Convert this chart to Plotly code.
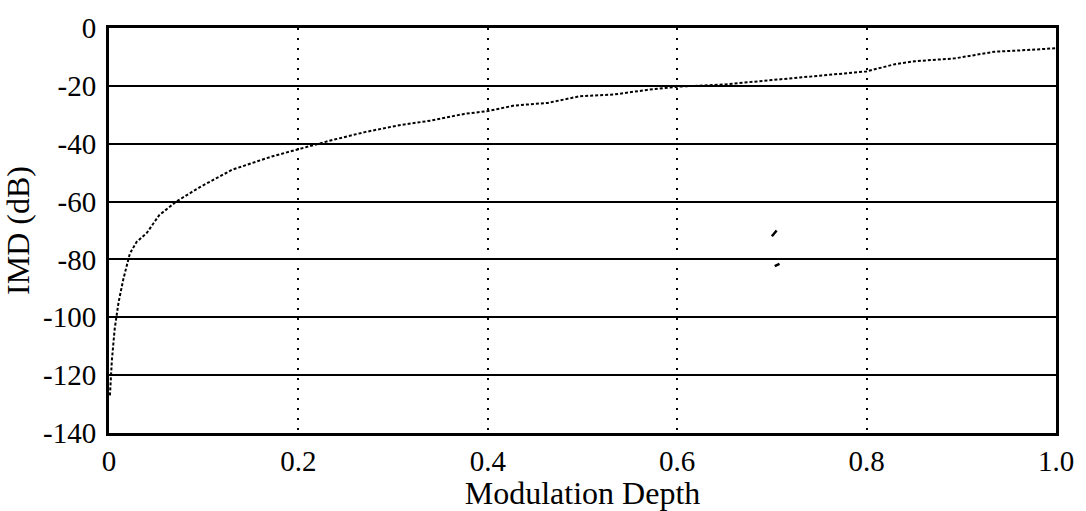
import plotly.graph_objects as go

# IMD versus modulation depth
depth = [0.001, 0.003, 0.006, 0.010, 0.015, 0.022, 0.029, 0.040, 0.053, 0.071,
         0.096, 0.130, 0.172, 0.200, 0.235, 0.270, 0.305, 0.340, 0.375, 0.400,
         0.428, 0.463, 0.497, 0.533, 0.568, 0.600, 0.650, 0.700, 0.750, 0.800,
         0.830, 0.851, 0.893, 0.914, 0.935, 0.970, 1.000]
imd_db = [-127, -115, -104, -95, -87, -78, -74, -70.8, -64.7, -60,
          -55, -49, -44.4, -41.8, -38.8, -36, -33.7, -32, -29.7, -28.7,
          -26.8, -25.9, -23.6, -23, -21.4, -20.3, -19.5, -18, -16.5, -15,
          -12.5, -11.5, -10.5, -9.3, -8.2, -7.6, -7.0]

# two small stray strokes in the plot field
stray_x = [0.700, 0.705, None, 0.703, 0.708]
stray_y = [-72.0, -70.0, None, -82.3, -81.5]

x_ticks = [0, 0.2, 0.4, 0.6, 0.8, 1.0]
x_tick_text = ["0", "0.2", "0.4", "0.6", "0.8", "1.0"]
y_ticks = [0, -20, -40, -60, -80, -100, -120, -140]
y_tick_text = ["0", "-20", "-40", "-60", "-80", "-100", "-120", "-140"]

FONT = "Liberation Serif"

fig = go.Figure()
fig.add_trace(go.Scatter(
    x=depth, y=imd_db, mode="lines",
    line=dict(color="black", width=2, dash="3px,2px"),
    showlegend=False,
))
fig.add_trace(go.Scatter(
    x=stray_x, y=stray_y, mode="lines",
    line=dict(color="black", width=2.5),
    showlegend=False,
))

fig.update_layout(
    width=1086, height=511,
    margin=dict(l=109, r=24, t=20, b=75),
    paper_bgcolor="white", plot_bgcolor="white",
    font=dict(family=FONT, color="black", size=29),
    xaxis=dict(
        range=[0, 1], tickvals=x_ticks, ticktext=x_tick_text,
        showgrid=True, gridcolor="black", gridwidth=2, griddash="2px,8px",
        showline=True, linecolor="black", linewidth=3, mirror=True,
        ticks="", zeroline=False, ticklabelstandoff=0,
        tickfont=dict(family=FONT, size=29),
        title=dict(text="Modulation Depth", font=dict(family=FONT, size=32), standoff=0),
    ),
    yaxis=dict(
        range=[-140, 0], tickvals=y_ticks, ticktext=y_tick_text,
        showgrid=True, gridcolor="black", gridwidth=1.8,
        showline=True, linecolor="black", linewidth=3, mirror=True,
        ticks="", zeroline=False, ticklabelstandoff=4,
        tickfont=dict(family=FONT, size=29),
        title=dict(text="IMD (dB)", font=dict(family=FONT, size=32), standoff=8),
    ),
)

fig.write_html("out.html")
